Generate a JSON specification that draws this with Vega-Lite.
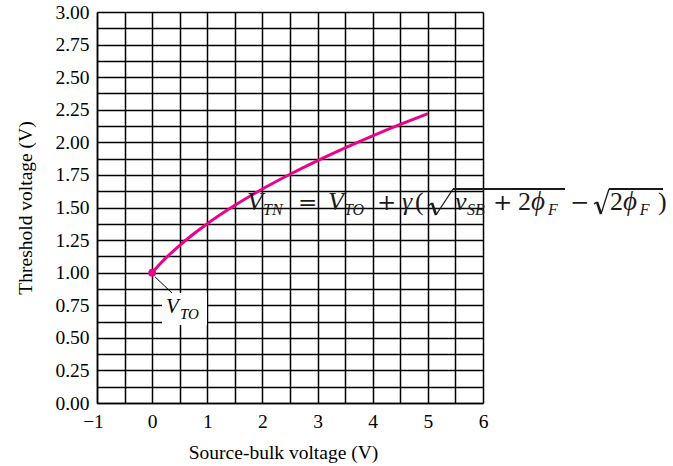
{
  "$schema": "https://vega.github.io/schema/vega-lite/v6.json",
  "width": 386,
  "height": 391,
  "autosize": "none",
  "padding": {"left": 97, "top": 12, "right": 190, "bottom": 63},
  "background": "white",
  "config": {
    "view": {"stroke": null},
    "font": "Liberation Serif",
    "axis": {
      "labelFont": "Liberation Serif",
      "titleFont": "Liberation Serif",
      "labelFontSize": 19.5,
      "titleFontSize": 19.5,
      "titleFontWeight": "normal",
      "labelColor": "black",
      "titleColor": "black",
      "ticks": false,
      "grid": true,
      "gridColor": "black",
      "gridOpacity": 1,
      "gridWidth": 1.5,
      "domainColor": "black",
      "domainWidth": 1.5,
      "labelOverlap": false,
      "labelBound": false,
      "labelFlush": false
    },
    "text": {"align": "left", "baseline": "alphabetic", "color": "#1a1a1a", "font": "Liberation Serif"},
    "rule": {"color": "#1a1a1a"}
  },
  "datasets": {
    "threshold": [
      {"vsb": 0.0, "vtn": 1.000},
      {"vsb": 0.02, "vtn": 1.010},
      {"vsb": 0.05, "vtn": 1.024},
      {"vsb": 0.1, "vtn": 1.048},
      {"vsb": 0.15, "vtn": 1.070},
      {"vsb": 0.25, "vtn": 1.113},
      {"vsb": 0.5, "vtn": 1.210},
      {"vsb": 0.75, "vtn": 1.297},
      {"vsb": 1.0, "vtn": 1.376},
      {"vsb": 1.5, "vtn": 1.517},
      {"vsb": 2.0, "vtn": 1.642},
      {"vsb": 2.5, "vtn": 1.755},
      {"vsb": 3.0, "vtn": 1.860},
      {"vsb": 3.5, "vtn": 1.958},
      {"vsb": 4.0, "vtn": 2.050},
      {"vsb": 4.5, "vtn": 2.137},
      {"vsb": 5.0, "vtn": 2.220}
    ],
    "vto": [{"vsb": 0, "vtn": 1.0}],
    "one": [{}]
  },
  "resolve": {"scale": {"x": "independent", "y": "independent"}},
  "layer": [
    {
      "data": {"name": "threshold"},
      "mark": {"type": "line", "color": "#ec008c", "strokeWidth": 3, "interpolate": "monotone"},
      "encoding": {
        "x": {
          "field": "vsb",
          "type": "quantitative",
          "scale": {"domain": [-1, 6], "nice": false, "zero": false},
          "axis": {
            "title": "Source-bulk voltage (V)",
            "values": [-1, -0.5, 0, 0.5, 1, 1.5, 2, 2.5, 3, 3.5, 4, 4.5, 5, 5.5, 6],
            "labelExpr": "datum.value % 1 == 0 ? replace(format(datum.value, 'd'), '-', '−') : ''",
            "labelOffset": {"condition": {"test": "datum.value < 0", "value": -4}, "value": 0},
            "labelPadding": 9,
            "titlePadding": 13,
            "titleX": 186
          }
        },
        "y": {
          "field": "vtn",
          "type": "quantitative",
          "scale": {"domain": [0, 3], "nice": false},
          "axis": {
            "title": "Threshold voltage (V)",
            "values": [0, 0.125, 0.25, 0.375, 0.5, 0.625, 0.75, 0.875, 1, 1.125, 1.25, 1.375, 1.5, 1.625, 1.75, 1.875, 2, 2.125, 2.25, 2.375, 2.5, 2.625, 2.75, 2.875, 3],
            "labelExpr": "datum.value % 0.25 == 0 ? format(datum.value, '.2f') : ''",
            "labelPadding": 8,
            "titlePadding": 19
          }
        }
      }
    },
    {
      "data": {"name": "one"},
      "layer": [
        {
          "data": {"name": "vto"},
          "mark": {"type": "circle", "color": "#ec008c", "opacity": 1, "size": 60},
          "encoding": {
            "x": {"field": "vsb", "type": "quantitative", "scale": {"domain": [-1, 6], "nice": false, "zero": false}, "axis": null},
            "y": {"field": "vtn", "type": "quantitative", "scale": {"domain": [0, 3], "nice": false, "zero": false}, "axis": null}
          }
        },
        {
          "mark": {"type": "rule", "color": "black", "strokeWidth": 1},
          "encoding": {
            "x": {"datum": 0.054, "axis": null},
            "y": {"datum": 0.967, "axis": null},
            "x2": {"datum": 0.36},
            "y2": {"datum": 0.844}
          }
        },
        {
          "mark": {"type": "rect", "fill": "white"},
          "encoding": {
            "x": {"datum": 0.179, "axis": null},
            "x2": {"datum": 0.995},
            "y": {"datum": 0.844, "axis": null},
            "y2": {"datum": 0.598}
          }
        },
        {
          "mark": {"type": "text", "text": "V", "fontStyle": "italic", "fontSize": 21, "color": "black"},
          "encoding": {"x": {"datum": 0.251, "axis": null}, "y": {"datum": 0.691, "axis": null}}
        },
        {
          "mark": {"type": "text", "text": "TO", "fontStyle": "italic", "fontSize": 15, "color": "black"},
          "encoding": {"x": {"datum": 0.505, "axis": null}, "y": {"datum": 0.645, "axis": null}}
        },
        {
          "mark": {"type": "text", "text": "V", "fontStyle": "italic", "fontSize": 26},
          "encoding": {"x": {"datum": 1.72, "axis": null}, "y": {"datum": 1.481, "axis": null}}
        },
        {
          "mark": {"type": "text", "text": "TN", "fontStyle": "italic", "fontSize": 16},
          "encoding": {"x": {"datum": 2.01, "axis": null}, "y": {"datum": 1.445, "axis": null}}
        },
        {
          "mark": {"type": "text", "text": "=", "font": "DejaVu Serif", "fontSize": 23},
          "encoding": {"x": {"datum": 2.645, "axis": null}, "y": {"datum": 1.481, "axis": null}}
        },
        {
          "mark": {"type": "text", "text": "V", "fontStyle": "italic", "fontSize": 26},
          "encoding": {"x": {"datum": 3.189, "axis": null}, "y": {"datum": 1.481, "axis": null}}
        },
        {
          "mark": {"type": "text", "text": "TO", "fontStyle": "italic", "fontSize": 16},
          "encoding": {"x": {"datum": 3.479, "axis": null}, "y": {"datum": 1.445, "axis": null}}
        },
        {
          "mark": {"type": "text", "text": "+", "font": "DejaVu Serif", "fontSize": 23},
          "encoding": {"x": {"datum": 4.078, "axis": null}, "y": {"datum": 1.481, "axis": null}}
        },
        {
          "mark": {"type": "text", "text": "γ", "fontStyle": "italic", "fontSize": 26},
          "encoding": {"x": {"datum": 4.531, "axis": null}, "y": {"datum": 1.481, "axis": null}}
        },
        {
          "mark": {"type": "text", "text": "(", "fontSize": 26},
          "encoding": {"x": {"datum": 4.767, "axis": null}, "y": {"datum": 1.481, "axis": null}}
        },
        {
          "mark": {"type": "rule", "strokeWidth": 1.5},
          "encoding": {"x": {"datum": 5.003, "axis": null}, "y": {"datum": 1.5115, "axis": null}, "x2": {"datum": 5.075}, "y2": {"datum": 1.5345}}
        },
        {
          "mark": {"type": "rule", "strokeWidth": 2.5},
          "encoding": {"x": {"datum": 5.075, "axis": null}, "y": {"datum": 1.5345, "axis": null}, "x2": {"datum": 5.148}, "y2": {"datum": 1.4425}}
        },
        {
          "mark": {"type": "rule", "strokeWidth": 1.3},
          "encoding": {"x": {"datum": 5.148, "axis": null}, "y": {"datum": 1.4425, "axis": null}, "x2": {"datum": 5.456}, "y2": {"datum": 1.642}}
        },
        {
          "mark": {"type": "rule", "strokeWidth": 1.8},
          "encoding": {"x": {"datum": 5.456, "axis": null}, "x2": {"datum": 7.487}, "y": {"datum": 1.642, "axis": null}}
        },
        {
          "mark": {"type": "text", "text": "v", "fontStyle": "italic", "fontSize": 26},
          "encoding": {"x": {"datum": 5.492, "axis": null}, "y": {"datum": 1.481, "axis": null}}
        },
        {
          "mark": {"type": "text", "text": "SB", "fontStyle": "italic", "fontSize": 16},
          "encoding": {"x": {"datum": 5.71, "axis": null}, "y": {"datum": 1.445, "axis": null}}
        },
        {
          "mark": {"type": "text", "text": "+", "font": "DejaVu Serif", "fontSize": 23},
          "encoding": {"x": {"datum": 6.181, "axis": null}, "y": {"datum": 1.481, "axis": null}}
        },
        {
          "mark": {"type": "text", "text": "2", "fontSize": 26},
          "encoding": {"x": {"datum": 6.635, "axis": null}, "y": {"datum": 1.481, "axis": null}}
        },
        {
          "mark": {"type": "text", "text": "ϕ", "fontStyle": "italic", "fontSize": 27},
          "encoding": {"x": {"datum": 6.871, "axis": null}, "y": {"datum": 1.481, "axis": null}}
        },
        {
          "mark": {"type": "text", "text": "F", "fontStyle": "italic", "fontSize": 16},
          "encoding": {"x": {"datum": 7.178, "axis": null}, "y": {"datum": 1.445, "axis": null}}
        },
        {
          "mark": {"type": "text", "text": "−", "font": "DejaVu Serif", "fontSize": 23},
          "encoding": {"x": {"datum": 7.578, "axis": null}, "y": {"datum": 1.481, "axis": null}}
        },
        {
          "mark": {"type": "rule", "strokeWidth": 1.5},
          "encoding": {"x": {"datum": 8.013, "axis": null}, "y": {"datum": 1.527, "axis": null}, "x2": {"datum": 8.067}, "y2": {"datum": 1.5422}}
        },
        {
          "mark": {"type": "rule", "strokeWidth": 2.5},
          "encoding": {"x": {"datum": 8.067, "axis": null}, "y": {"datum": 1.5422, "axis": null}, "x2": {"datum": 8.14}, "y2": {"datum": 1.4502}}
        },
        {
          "mark": {"type": "rule", "strokeWidth": 1.3},
          "encoding": {"x": {"datum": 8.14, "axis": null}, "y": {"datum": 1.4502, "axis": null}, "x2": {"datum": 8.285}, "y2": {"datum": 1.642}}
        },
        {
          "mark": {"type": "rule", "strokeWidth": 1.8},
          "encoding": {"x": {"datum": 8.285, "axis": null}, "x2": {"datum": 9.264}, "y": {"datum": 1.642, "axis": null}}
        },
        {
          "mark": {"type": "text", "text": "2", "fontSize": 26},
          "encoding": {"x": {"datum": 8.303, "axis": null}, "y": {"datum": 1.481, "axis": null}}
        },
        {
          "mark": {"type": "text", "text": "ϕ", "fontStyle": "italic", "fontSize": 27},
          "encoding": {"x": {"datum": 8.539, "axis": null}, "y": {"datum": 1.481, "axis": null}}
        },
        {
          "mark": {"type": "text", "text": "F", "fontStyle": "italic", "fontSize": 16},
          "encoding": {"x": {"datum": 8.842, "axis": null}, "y": {"datum": 1.445, "axis": null}}
        },
        {
          "mark": {"type": "text", "text": ")", "fontSize": 26},
          "encoding": {"x": {"datum": 9.173, "axis": null}, "y": {"datum": 1.481, "axis": null}}
        }
      ]
    }
  ]
}
